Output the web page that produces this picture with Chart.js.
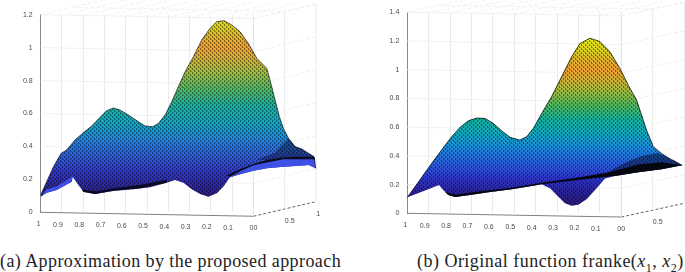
<!DOCTYPE html>
<html>
<head>
<meta charset="utf-8">
<style>
    html, body { margin: 0; padding: 0; background: #fff; width: 685px; height: 272px; overflow: hidden; }
    .panel { position: absolute; top: 0; width: 340px; height: 240px; }
    .caption { position: absolute; top: 251px; font-family: "Liberation Serif", serif; font-size: 18px; color: #222; white-space: nowrap; }
    sub { font-size: 12px; line-height: 0; }
</style>
<script src="https://cdn.jsdelivr.net/npm/chart.js@4"></script>
</head>
<body>
<div class="panel" style="left:0"><canvas id="chartA" width="340" height="240"></canvas></div>
<div class="panel" style="left:345px"><canvas id="chartB" width="340" height="240"></canvas></div>
<div class="caption" style="left:0;letter-spacing:.42px">(a) Approximation by the proposed approach</div>
<div class="caption" style="left:417px;letter-spacing:.48px">(b) Original function franke(<i>x</i><sub>1</sub>, <i>x</i><sub>2</sub>)</div>
<script>
    // tick values and labels
    var xTicks = [1, 0.9, 0.8, 0.7, 0.6, 0.5, 0.4, 0.3, 0.2, 0.1, 0];
    var xTickLabels = ['1', '0.9', '0.8', '0.7', '0.6', '0.5', '0.4', '0.3', '0.2', '0.1', '00'];
    var depthTicks = [-0.147, -0.295];
    var depthTickLabels = ['0.5', '1'];
    var zTicksA = [0, 0.2, 0.4, 0.6, 0.8, 1, 1.2];
    var zTickLabelsA = ['0', '0.2', '0.4', '0.6', '0.8', '1', '1.2'];
    var zTicksB = [0, 0.2, 0.4, 0.6, 0.8, 1, 1.2, 1.4];
    var zTickLabelsB = ['0', '0.2', '0.4', '0.6', '0.8', '1', '1.2', '1.4'];

    // colour ramp, height -> colour
    var rampZ = [0.05, 0.15, 0.25, 0.35, 0.45, 0.55, 0.65, 0.75, 0.85, 0.93, 1.0, 1.06, 1.12, 1.2];
    var rampColor = ['#2a1a70', '#2a2498', '#3038cc', '#2c60dc', '#1e88dc', '#12a8c0', '#18b0a0', '#50b860', '#a0bc40', '#d0b038', '#f0a030', '#e0b030', '#d8cc20', '#e8e818'];

    // panel (a) outline of the surface
    var aTopX = [1, .972, .94, .904, .878, .839, .799, .76, .721, .69, .658, .627, .588, .549, .509, .473, .447, .415, .384, .353, .321, .282, .243, .204, .172, .138, .102, .063, .024, -.016, -.063, -.082, -.102, -.122, -.141, -.165, -.196, -.227, -.259, -.285, -.293];
    var aTopZ = [.105, .186, .277, .358, .379, .439, .484, .524, .577, .617, .634, .621, .591, .557, .524, .52, .54, .591, .672, .763, .854, .945, 1.047, 1.117, 1.158, 1.164, 1.138, 1.097, 1.026, .935, .874, .783, .682, .581, .51, .449, .399, .385, .358, .338, .267];
    var aLowX = [-.259, -.219, -.141, -.063, 0, .063, .11, .141, .172, .212, .251, .29, .329, .368, .408, .486, .564, .658, .745, .799, .823, .85, .854, .925, .972, 1];
    var aLowZ = [.287, .283, .277, .267, .253, .231, .213, .156, .115, .095, .111, .14, .18, .196, .18, .152, .14, .13, .111, .126, .166, .217, .186, .136, .119, .095];
    // panel (a) dark front rim, left and right parts
    var aRimLeftX = [.807, .737, .658, .533, .408, .408, .533, .658, .745, .799];
    var aRimLeftZ = [.138, .126, .146, .166, .197, .18, .146, .132, .111, .123];
    var aRimRightX = [.125, .063, 0, -.063, -.141, -.219, -.285, -.29, -.219, -.141, -.063, 0, .063, .11];
    var aRimRightZ = [.223, .261, .294, .318, .334, .338, .338, .322, .322, .322, .303, .285, .25, .217];
    // panel (a) bright underside
    var aUnderRightX = [.11, .063, 0, -.063, -.141, -.219, -.259, -.293, -.29, -.219, -.141, -.063, 0, .063];
    var aUnderRightZ = [.213, .231, .253, .267, .277, .283, .287, .267, .325, .325, .325, .305, .285, .25];
    var aUnderLeftX = [.85, .854, .925, .972, 1, .972, .925];
    var aUnderLeftZ = [.217, .186, .136, .119, .095, .14, .156];
    // panel (a) mottled dark patch behind the right foot
    var aPatchX = [-.016, -.1, -.165, -.196, -.227, -.259, -.285, -.219, -.141, -.063];
    var aPatchZ = [.32, .36, .449, .399, .385, .358, .338, .338, .334, .318];

    // panel (b) outline of the surface
    var bTopX = [1, .964, .925, .886, .84, .793, .754, .715, .676, .637, .598, .559, .52, .474, .442, .411, .372, .326, .279, .232, .193, .146, .1, .053, .006, -.033, -.072, -.095, -.118, -.15, -.188, -.235, -.285];
    var bTopZ = [.111, .185, .267, .348, .44, .533, .598, .644, .663, .661, .626, .575, .529, .51, .533, .591, .695, .811, .95, 1.089, 1.182, 1.219, 1.196, 1.124, 1.008, .892, .788, .684, .58, .464, .417, .371, .334];
    var bLowX = [-.188, -.079, .03, .076, .115, .162, .201, .232, .263, .294, .333, .372, .419, .512, .621, .699, .777, .808, .832, .852, .917];
    var bLowZ = [.306, .285, .26, .243, .174, .097, .06, .053, .07, .116, .174, .202, .19, .167, .146, .13, .114, .127, .162, .197, .158];
    // panel (b) dark front rim, and the softer shade above its right end
    var bRimX = [.824, .777, .668, .512, .372, .201, .045, -.079, -.188, -.285, -.188, -.079, .03, .201, .372, .512, .621, .699, .777, .808];
    var bRimZ = [.148, .13, .152, .178, .212, .25, .29, .34, .356, .334, .306, .285, .26, .232, .202, .167, .146, .13, .114, .127];
    var bShadeX = [.06, -.03, -.1, -.17, -.25, -.285, -.188, -.079, .03];
    var bShadeZ = [.29, .36, .4, .42, .37, .334, .306, .285, .26];

    function toPoints(xs, zs) {
        var pts = [];
        for (var i = 0; i < xs.length; i++) {
            pts.push({ x: xs[i], y: zs[i] });
        }
        return pts;
    }

    // mesh texture laid over the coloured surface
    function makeMeshPattern() {
        var tile = document.createElement('canvas');
        tile.width = 4;
        tile.height = 4;
        var t = tile.getContext('2d');
        t.fillStyle = 'rgba(0,0,0,0.42)';
        t.fillRect(0, 0, 1, 2);
        t.fillRect(2, 2, 1, 2);
        t.fillStyle = 'rgba(0,0,0,0.2)';
        t.fillRect(1, 1, 1, 1);
        t.fillRect(3, 3, 1, 1);
        return t.createPattern(tile, 'repeat');
    }

    function heightFill(ctx) {
        var chart = ctx.chart;
        if (!chart.chartArea) {
            return '#2e6ee0';
        }
        var yScale = chart.scales.y;
        var y0 = yScale.getPixelForValue(rampZ[0]);
        var y1 = yScale.getPixelForValue(rampZ[rampZ.length - 1]);
        var grad = chart.ctx.createLinearGradient(0, y0, 0, y1);
        for (var i = 0; i < rampZ.length; i++) {
            grad.addColorStop((rampZ[i] - rampZ[0]) / (rampZ[rampZ.length - 1] - rampZ[0]), rampColor[i]);
        }
        return grad;
    }

    function shape(points, fillColor) {
        return { data: points, showLine: true, fill: 'shape', backgroundColor: fillColor, borderColor: 'rgba(0,0,0,0)', borderWidth: 0, pointRadius: 0, tension: 0, clip: false };
    }

    function guide(points, color, dash) {
        return { data: points, showLine: true, fill: false, borderColor: color, borderWidth: 1, borderDash: dash || [], pointRadius: 0, tension: 0, clip: false };
    }

    // box lines of the 3D view, derived from the tick arrays
    function boxGuides(zTicks, drop, rise) {
        var out = [];
        var topZ = zTicks[zTicks.length - 1];
        var back = depthTicks[1];
        var mid = depthTicks[0];
        zTicks.forEach(function (z, i) {
            if (i === 0) return;
            out.push(guide(toPoints([1, 0], [z, z - drop]), '#f1f1f1'));
            out.push(guide(toPoints([0, back], [z - drop, z + rise]), '#eeeeee', [4, 2]));
        });
        out.push(guide(toPoints([0, 0], [-drop, topZ - drop]), '#e2e2e2'));
        out.push(guide(toPoints([mid, mid], [(rise - drop) / 2, topZ + (rise - drop) / 2]), '#ebebeb'));
        out.push(guide(toPoints([back, back], [rise, topZ + rise]), '#ebebeb'));
        xTicks.forEach(function (x) {
            var d = drop * (1 - x);
            out.push(guide(toPoints([x, x + back], [topZ - d, topZ - d + rise + drop]), '#f1f1f1', [4, 2]));
        });
        out.push(guide(toPoints([1 + mid, mid], [topZ + (rise + drop) / 2, topZ + (rise - drop) / 2]), '#f1f1f1', [4, 2]));
        // floor
        out.push(guide(toPoints([1, 0], [0, -drop]), '#808080'));
        out.push(guide(toPoints([0, back], [-drop, rise]), '#666666', [3, 2]));
        return out;
    }

    // x and depth labels sit on the slanted floor, so they are placed from the scale here
    var floorLabels = {
        id: 'floorLabels',
        afterDraw: function (chart, args, opts) {
            var c = chart.ctx;
            var xs = chart.scales.x;
            var base = chart.chartArea.bottom;
            c.save();
            c.fillStyle = '#4a4a4a';
            c.font = '7px "Liberation Sans"';
            c.textAlign = 'center';
            c.textBaseline = 'middle';
            xTicks.forEach(function (v, i) {
                var shift = (i === 0) ? -2 : (i === xTicks.length - 1 ? 0 : -4);
                c.fillText(xTickLabels[i], xs.getPixelForValue(v) + shift, base + 12 + i * 0.4);
            });
            depthTicks.forEach(function (v, i) {
                c.fillText(depthTickLabels[i], xs.getPixelForValue(v) + (i === 0 ? 5 : 2), base + (i === 0 ? 9 : 2));
            });
            c.restore();
        }
    };

    function buildChart(id, surfaces, zTicks, zLabels, opts) {
        var all = surfaces.concat(boxGuides(zTicks, opts.drop, opts.rise));
        return new Chart(document.getElementById(id).getContext('2d'), {
            type: 'scatter',
            data: { datasets: all },
            plugins: [floorLabels],
            options: {
                responsive: false,
                animation: false,
                layout: { padding: { top: opts.top, bottom: opts.bottom, left: 0, right: 0 } },
                plugins: { legend: { display: false }, tooltip: { enabled: false } },
                scales: {
                    x: {
                        type: 'linear',
                        reverse: true,
                        min: opts.xMin,
                        max: 1,
                        afterBuildTicks: function (axis) {
                            axis.ticks = xTicks.map(function (v) { return { value: v }; });
                        },
                        ticks: { display: false },
                        grid: { color: '#eaeaea', drawTicks: false },
                        border: { display: false }
                    },
                    y: {
                        min: 0,
                        max: zTicks[zTicks.length - 1],
                        afterBuildTicks: function (axis) {
                            axis.ticks = zTicks.map(function (v) { return { value: v }; });
                        },
                        afterFit: function (axis) {
                            axis.width = opts.left;
                        },
                        ticks: {
                            padding: 8,
                            color: '#4a4a4a',
                            font: { family: 'Liberation Sans', size: 7 },
                            callback: function (v) { return zLabels[zTicks.indexOf(v)]; }
                        },
                        grid: { display: false, drawTicks: false },
                        border: { display: true, color: '#8a8a8a' }
                    }
                }
            }
        });
    }

    var mesh = makeMeshPattern();

    var aOutline = toPoints(aTopX.concat(aLowX), aTopZ.concat(aLowZ));
    buildChart('chartA', [
        guide(toPoints(aTopX, aTopZ), 'rgba(0,0,0,0.6)'),
        shape(toPoints(aRimLeftX, aRimLeftZ), '#0a0a20'),
        shape(toPoints(aRimRightX, aRimRightZ), '#0a0a20'),
        shape(toPoints(aUnderRightX, aUnderRightZ), '#3f50e6'),
        shape(toPoints(aUnderLeftX, aUnderLeftZ), '#3f50e6'),
        shape(toPoints(aPatchX, aPatchZ), 'rgba(5,5,30,0.4)'),
        shape(aOutline, mesh),
        shape(aOutline, heightFill)
    ], zTicksA, zTickLabelsA, { top: 14.7, bottom: 27.7, left: 40.7, xMin: -0.407, drop: 0.024, rise: 0.065 });

    var bOutline = toPoints(bTopX.concat(bLowX), bTopZ.concat(bLowZ));
    buildChart('chartB', [
        guide(toPoints(bTopX, bTopZ), 'rgba(0,0,0,0.7)'),
        shape(toPoints(bRimX, bRimZ), '#06060f'),
        shape(toPoints(bShadeX, bShadeZ), 'rgba(5,5,20,0.45)'),
        shape(bOutline, mesh),
        shape(bOutline, heightFill)
    ], zTicksB, zTickLabelsB, { top: 12, bottom: 26.7, left: 62.3, xMin: -0.298, drop: 0.026, rise: 0.07 });
</script>
</body>
</html>
